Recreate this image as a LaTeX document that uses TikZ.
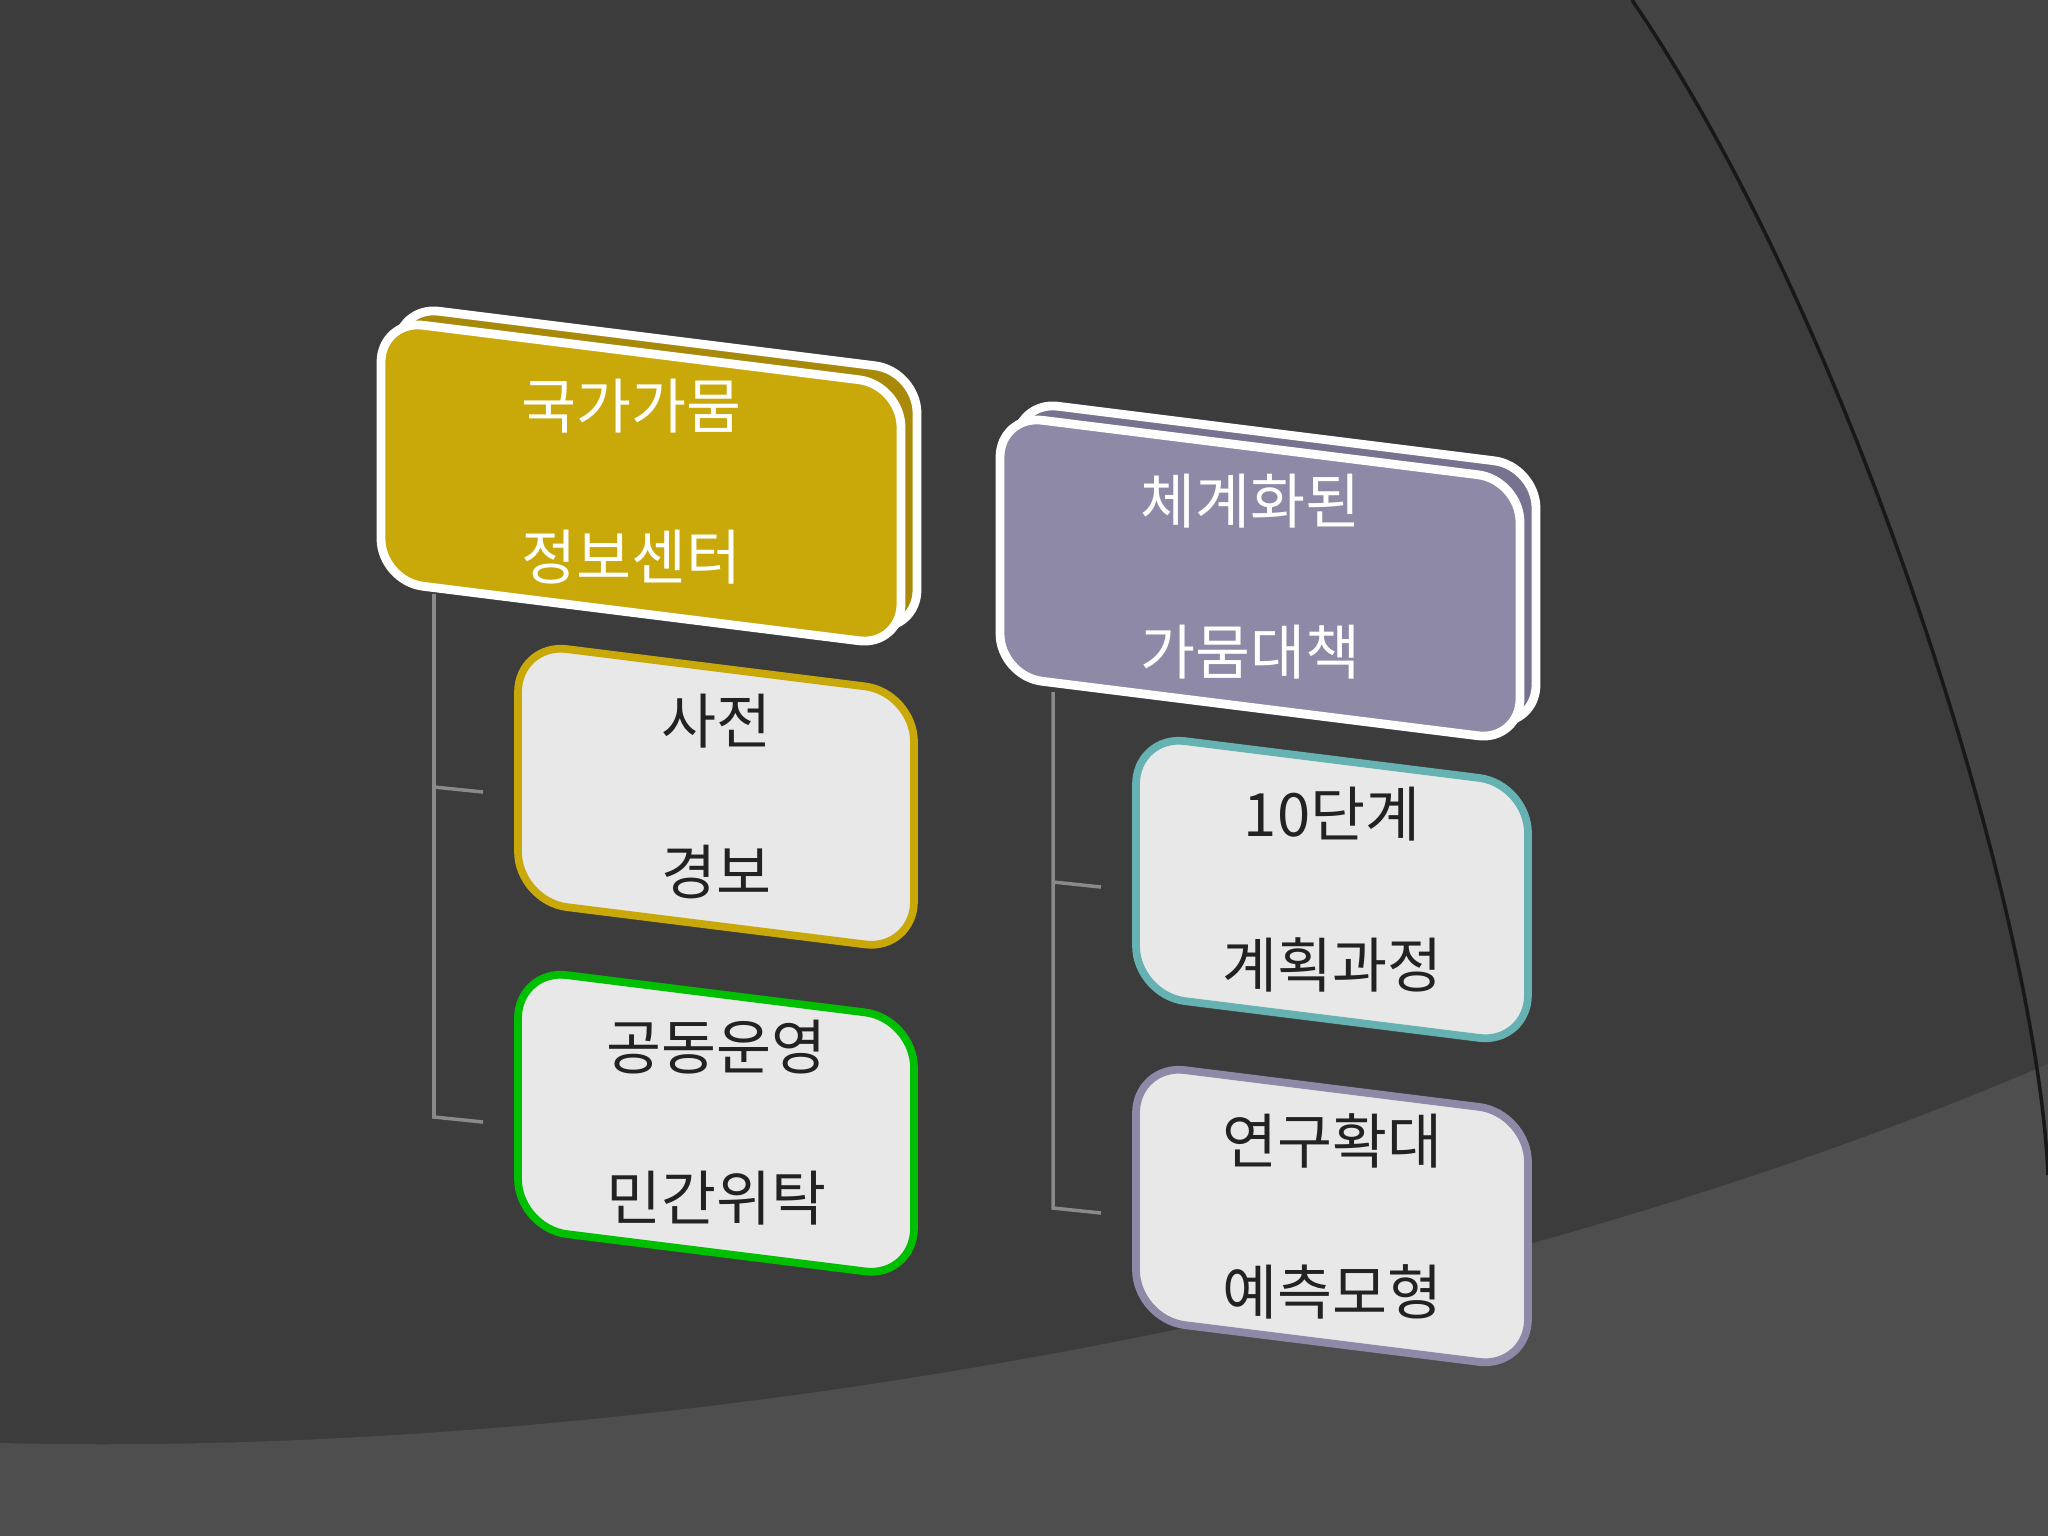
\documentclass[tikz,border=0pt]{standalone}
\usepackage{fontspec}
\newfontfamily\kr{Noto Sans CJK KR}
\begin{document}
\begin{tikzpicture}[x=0.01cm,y=-0.01cm,
  topbox/.style={draw=white,line width=2.5pt,rounded corners=12pt},
  subbox/.style={line width=2.2pt,rounded corners=14pt,fill=boxgray},
  tlabel/.style={font=\kr\fontsize{17}{17}\selectfont,text=white,align=center},
  slabel/.style={font=\kr\fontsize{17}{17}\selectfont,text=txtdark,align=center},
  conn/.style={draw=linegray,line width=1pt}]
\definecolor{bg}{HTML}{3C3C3C}
\definecolor{bgr}{HTML}{444444}
\definecolor{bgb}{HTML}{4E4E4F}
\definecolor{gold}{HTML}{C9A80A}
\definecolor{golddk}{HTML}{A8890A}
\definecolor{purp}{HTML}{8E89A6}
\definecolor{purpdk}{HTML}{77728F}
\definecolor{boxgray}{HTML}{E8E8E8}
\definecolor{txtdark}{HTML}{222222}
\definecolor{linegray}{HTML}{8A8A8A}
\useasboundingbox (0,0) rectangle (2048,1536);
\fill[bg] (0,0) rectangle (2048,1536);
\fill[bgr] (1632,0) .. controls (1855,326) and (2037,914) .. (2048,1175) -- (2048,0) -- cycle;
\fill[bgb] (0,1443) .. controls (700,1460) and (1500,1300) .. (2048,1064) -- (2048,1536) -- (0,1536) -- cycle;
\draw[black!60!bg,line width=1pt] (1632,0) .. controls (1855,326) and (2037,914) .. (2048,1175);
% connectors
\coordinate (l0) at (434,594); \coordinate (l1) at (434,787); \coordinate (l2) at (434,1117);
\coordinate (l1e) at (483,792); \coordinate (l2e) at (483,1122);
\draw[conn] (l0) -- (l2) -- (l2e); \draw[conn] (l1) -- (l1e);
\coordinate (r0) at (1053,692); \coordinate (r1) at (1053,882); \coordinate (r2) at (1053,1208);
\coordinate (r1e) at (1101,887); \coordinate (r2e) at (1101,1213);
\draw[conn] (r0) -- (r2) -- (r2e); \draw[conn] (r1) -- (r1e);
% left top box
\begin{scope}[shift={(381,320)},yslant=-0.125]
 \draw[topbox,fill=golddk] (16,-16) rectangle (536,245);
 \draw[topbox,fill=gold] (0,0) rectangle (520,261);
 \node[tlabel] (t1) at (250,130) {국가가뭄\\[26pt]정보센터};
\end{scope}
\begin{scope}[shift={(518,643)},yslant=-0.125]
 \draw[subbox,draw=gold] (0,0) rectangle (396,258);
 \node[slabel] (a1) at (198,129) {사전\\[26pt]경보};
\end{scope}
\begin{scope}[shift={(518,969)},yslant=-0.125]
 \draw[subbox,draw=green!75!black] (0,0) rectangle (396,259);
 \node[slabel] (a2) at (198,129) {공동운영\\[26pt]민간위탁};
\end{scope}
% right
\begin{scope}[shift={(1000,415)},yslant=-0.125]
 \draw[topbox,fill=purpdk] (16,-16) rectangle (536,245);
 \draw[topbox,fill=purp] (0,0) rectangle (520,261);
 \node[tlabel] (t2) at (250,130) {체계화된\\[26pt]가뭄대책};
\end{scope}
\begin{scope}[shift={(1136,735)},yslant=-0.125]
 \draw[subbox,draw=teal!60!white] (0,0) rectangle (392,260);
 \node[slabel] (b1) at (196,130) {10단계\\[26pt]계획과정};
\end{scope}
\begin{scope}[shift={(1136,1064)},yslant=-0.125]
 \draw[subbox,draw=purp] (0,0) rectangle (392,255);
 \node[slabel] (b2) at (196,128) {연구확대\\[26pt]예측모형};
\end{scope}
\end{tikzpicture}
\end{document}
